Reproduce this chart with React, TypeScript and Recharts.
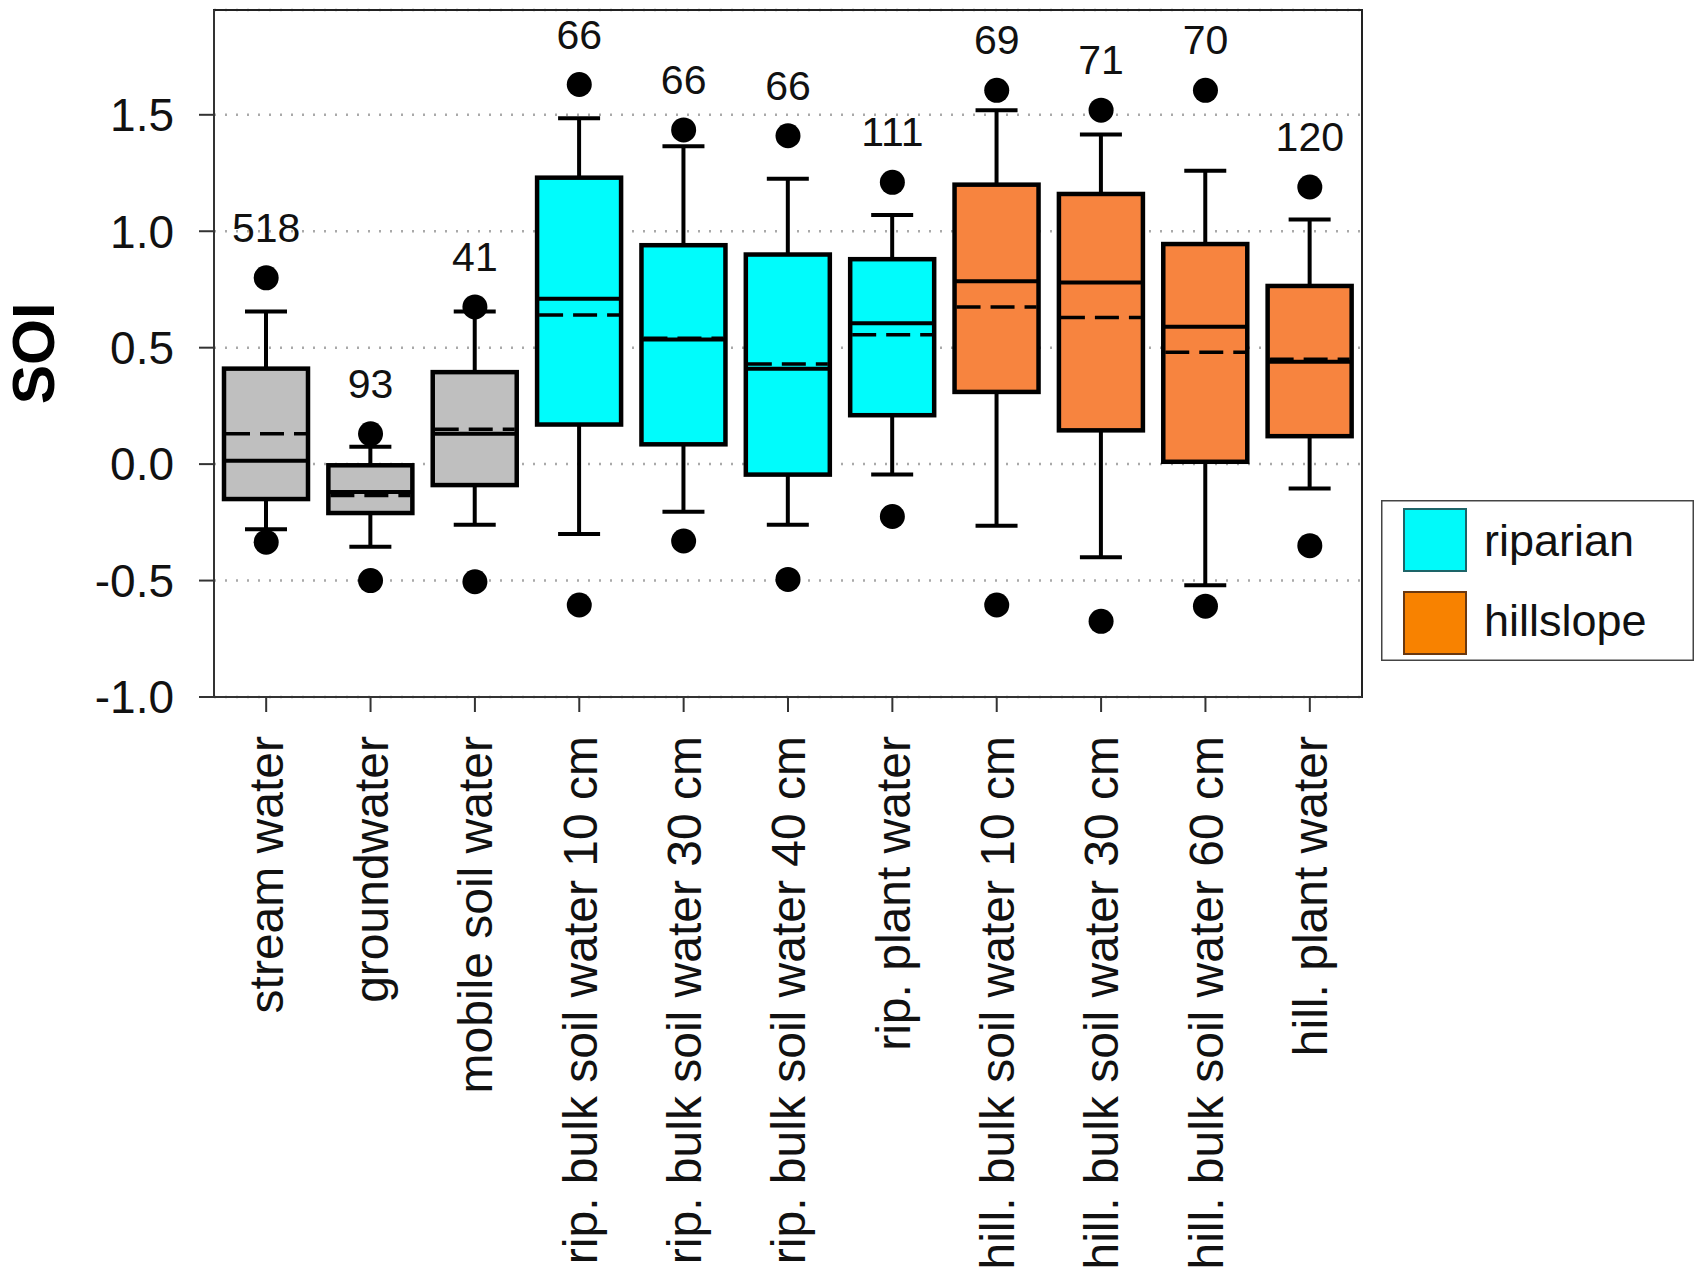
import React from 'react';
import {
  ComposedChart,
  Bar,
  Scatter,
  XAxis,
  YAxis,
  CartesianGrid,
  ReferenceArea,
  Legend,
  Label,
} from 'recharts';

const FONT = '"Liberation Sans", Arial, Helvetica, sans-serif';

const categories = [
  'stream water',
  'groundwater',
  'mobile soil water',
  'rip. bulk soil water 10 cm',
  'rip. bulk soil water 30 cm',
  'rip. bulk soil water 40 cm',
  'rip. plant water',
  'hill. bulk soil water 10 cm',
  'hill. bulk soil water 30 cm',
  'hill. bulk soil water 60 cm',
  'hill. plant water',
];
const groups = ['base', 'base', 'base', 'rip', 'rip', 'rip', 'rip', 'hill', 'hill', 'hill', 'hill'];
const counts = [518, 93, 41, 66, 66, 66, 111, 69, 71, 70, 120];

const whiskerLow = [-0.28, -0.355, -0.26, -0.3, -0.205, -0.26, -0.045, -0.265, -0.4, -0.52, -0.105];
const quartile1 = [-0.15, -0.21, -0.09, 0.17, 0.085, -0.045, 0.21, 0.31, 0.145, 0.01, 0.12];
const medians = [0.015, -0.12, 0.13, 0.71, 0.535, 0.41, 0.605, 0.785, 0.78, 0.59, 0.44];
const means = [0.13, -0.135, 0.15, 0.64, 0.54, 0.43, 0.555, 0.675, 0.63, 0.48, 0.45];
const quartile3 = [0.41, -0.005, 0.395, 1.23, 0.94, 0.9, 0.88, 1.2, 1.16, 0.945, 0.765];
const whiskerHigh = [0.655, 0.075, 0.655, 1.485, 1.365, 1.225, 1.07, 1.52, 1.415, 1.26, 1.05];
const outlierLow = [-0.335, -0.5, -0.505, -0.605, -0.33, -0.495, -0.225, -0.605, -0.675, -0.61, -0.35];
const outlierHigh = [0.8, 0.13, 0.675, 1.63, 1.435, 1.41, 1.21, 1.605, 1.52, 1.605, 1.19];

const yTicks = [-1, -0.5, 0, 0.5, 1, 1.5];

const groupFill: Record<string, string> = {
  base: '#bfbfbf',
  rip: '#00fcfc',
  hill: '#f7843f',
};

const legendItems = [
  { label: 'riparian', fill: '#00fafa', stroke: '#1d6468' },
  { label: 'hillslope', fill: '#f88200', stroke: '#6a3810' },
];

const data = categories.map((name, i) => ({
  name,
  group: groups[i],
  n: counts[i],
  span: [whiskerLow[i], whiskerHigh[i]],
  wLo: whiskerLow[i],
  q1: quartile1[i],
  med: medians[i],
  mean: means[i],
  q3: quartile3[i],
  wHi: whiskerHigh[i],
  outLo: outlierLow[i],
  outHi: outlierHigh[i],
}));

// whole box + whiskers, positioned from the range bar the library lays out
function BoxShape(props: any) {
  const { x, y, width, height, payload } = props;
  if (!payload) return null;
  const top = Math.min(y, y + height);
  const bottom = Math.max(y, y + height);
  const lo = payload.wLo;
  const hi = payload.wHi;
  const py = (v: number) => top + ((hi - v) / (hi - lo)) * (bottom - top);
  const cx = x + width / 2;
  const cap = 21;
  return (
    <g>
      <line x1={cx} x2={cx} y1={py(hi)} y2={py(payload.q3)} stroke="#000" strokeWidth={4} />
      <line x1={cx} x2={cx} y1={py(payload.q1)} y2={py(lo)} stroke="#000" strokeWidth={4} />
      <line x1={cx - cap} x2={cx + cap} y1={py(hi)} y2={py(hi)} stroke="#000" strokeWidth={4} />
      <line x1={cx - cap} x2={cx + cap} y1={py(lo)} y2={py(lo)} stroke="#000" strokeWidth={4} />
      <rect
        x={x}
        y={py(payload.q3)}
        width={width}
        height={py(payload.q1) - py(payload.q3)}
        fill={groupFill[payload.group]}
        stroke="#000"
        strokeWidth={4.5}
      />
      <line x1={x} x2={x + width} y1={py(payload.med)} y2={py(payload.med)} stroke="#000" strokeWidth={4} />
      <line
        x1={x + 2}
        x2={x + width - 2}
        y1={py(payload.mean)}
        y2={py(payload.mean)}
        stroke="#000"
        strokeWidth={3.5}
        strokeDasharray="24 10"
      />
    </g>
  );
}

function LowDot(props: any) {
  const { cx, cy } = props;
  if (cx == null || cy == null) return null;
  return <circle cx={cx} cy={cy} r={12.5} fill="#000" />;
}

function HighDot(props: any) {
  const { cx, cy, payload } = props;
  if (cx == null || cy == null) return null;
  return (
    <g>
      <circle cx={cx} cy={cy} r={12.5} fill="#000" />
      <text x={cx} y={cy - 36} textAnchor="middle" fontSize={41} fontFamily={FONT} fill="#111">
        {payload.n}
      </text>
    </g>
  );
}

function CategoryTick(props: any) {
  const { x, y, payload } = props;
  return (
    <g transform={`translate(${x},${y})`}>
      <text transform="rotate(-90)" textAnchor="end" dy="0.36em" fontSize={48} fontFamily={FONT} fill="#111">
        {payload.value}
      </text>
    </g>
  );
}

function SoiLabel(props: any) {
  const { viewBox } = props;
  const cy = viewBox.y + viewBox.height / 2;
  const bx = viewBox.x + 54;
  return (
    <text
      x={bx}
      y={cy}
      transform={`rotate(-90, ${bx}, ${cy})`}
      textAnchor="middle"
      fontSize={59}
      fontWeight="bold"
      fontFamily={FONT}
      fill="#000"
    >
      SOI
    </text>
  );
}

function LegendBox() {
  return (
    <svg width={313} height={161} style={{ display: 'block' }}>
      <rect x={0.75} y={0.75} width={311.5} height={159.5} fill="#fff" stroke="#444" strokeWidth={1.5} />
      {legendItems.map((item, i) => (
        <g key={item.label}>
          <rect x={23} y={9 + i * 83} width={62} height={62} fill={item.fill} stroke={item.stroke} strokeWidth={2} />
          <text x={103} y={56 + i * 80} fontSize={45} fontFamily={FONT} fill="#111">
            {item.label}
          </text>
        </g>
      ))}
    </svg>
  );
}

export default function App() {
  return (
    <div style={{ position: 'absolute', left: 0, top: 0, width: 1699, height: 1284, background: '#fff' }}>
      <ComposedChart
        width={1699}
        height={1284}
        data={data}
        margin={{ top: 10, right: 337, bottom: 0, left: 0 }}
        style={{ fontFamily: FONT }}
      >
        <CartesianGrid vertical={false} stroke="#a9a9a9" strokeWidth={2.5} strokeDasharray="2 9" />
        <XAxis
          dataKey="name"
          type="category"
          height={587}
          interval={0}
          tickSize={15}
          tickMargin={24}
          tick={<CategoryTick />}
          axisLine={{ stroke: '#333', strokeWidth: 2 }}
          tickLine={{ stroke: '#333', strokeWidth: 2 }}
        />
        <YAxis
          type="number"
          domain={[-1, 1.95]}
          ticks={yTicks}
          allowDataOverflow
          width={214}
          tickSize={15}
          tickMargin={25}
          tickFormatter={(v: number) => v.toFixed(1)}
          tick={{ fontSize: 46, fill: '#111', fontFamily: FONT }}
          axisLine={{ stroke: '#333', strokeWidth: 2 }}
          tickLine={{ stroke: '#333', strokeWidth: 2 }}
        >
          <Label content={<SoiLabel />} position="insideLeft" />
        </YAxis>
        <ReferenceArea y1={-1} y2={1.95} fill="none" stroke="#222" strokeWidth={2} />
        <Bar dataKey="span" barSize={84} shape={<BoxShape />} isAnimationActive={false} />
        <Scatter dataKey="outLo" shape={<LowDot />} isAnimationActive={false} />
        <Scatter dataKey="outHi" shape={<HighDot />} isAnimationActive={false} />
        <Legend
          layout="horizontal"
          verticalAlign="middle"
          align="center"
          content={() => <LegendBox />}
          wrapperStyle={{ position: 'absolute', left: 1381, top: 500, width: 313, height: 161 }}
        />
      </ComposedChart>
    </div>
  );
}
